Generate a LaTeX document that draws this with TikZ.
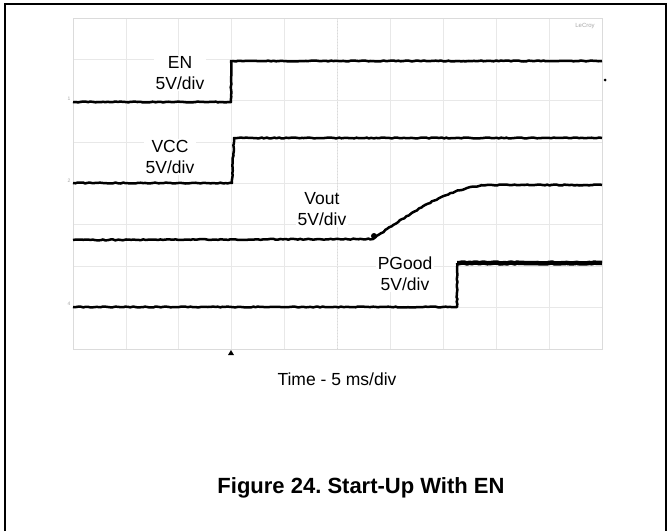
\documentclass[tikz,border=0pt]{standalone}
\usepackage{fontspec}
\setmainfont{Liberation Sans}
\usetikzlibrary{decorations.pathmorphing}

\begin{document}
\begin{tikzpicture}[x=1pt,y=-1pt,
	gridline/.style={gray!18,line width=.8pt},
	trace/.style={black,line width=2.5pt,line join=round,decorate,decoration={random steps,segment length=2.5pt,amplitude=.5pt}},
	scopelabel/.style={fill=white,align=center,inner sep=1.5pt,font=\fontsize{17.5}{21}\selectfont},
	chmark/.style={gray!70,font=\fontsize{5}{5}\selectfont,inner sep=0pt}]
							\useasboundingbox (0,0) rectangle (668,531);
							\draw[line width=1.5pt] (5,531)--(5,4)--(666,4)--(666,531);
							% graticule
							\foreach \i in {0,...,10} \draw[gridline] ({73+52.9*\i},18)--({73+52.9*\i},349);
							\foreach \j in {0,...,8} \draw[gridline] (73,{18+41.375*\j})--(602,{18+41.375*\j});
							\draw[gray!28,line width=1pt] (73,18) rectangle (602,349);
							\draw[gray!30,line width=.8pt,dash pattern=on 1pt off 2pt] (337.5,18)--(337.5,349);
							\node[gray!70,font=\fontsize{6}{7}\selectfont] (lecroy) at (585,26) {LeCroy};
							% traces
							\draw[trace] (73,102)--(231,102)--(231,61)--(602,61);
							\draw[trace] (73,183)--(232,183)--(234,138)--(602,138);
							\draw[trace] (73,240)--(373,239) .. controls (420,206) and (450,188) .. (487,185)--(602,185);
							\fill[black] (374,236) circle [radius=3pt];
							\draw[trace] (73,307)--(457,307)--(457,263);
							\draw[trace,line width=4.5pt] (457,263)--(602,263);
							% markers
							\node[chmark] (ch1) at (69,99) {1};
							\node[chmark] (ch2) at (69,181) {2};
							\node[chmark] (ch4) at (69,304) {4};
							\fill[black] (605,80) circle [radius=1.5pt];
							\fill[black] (228,355)--(234,355)--(231,350)--cycle;
							% labels
							\node[scopelabel] (en) at (180,73) {EN\\5V/div};
							\node[scopelabel] (vcc) at (170,157) {VCC\\5V/div};
							\node[scopelabel] (vout) at (322,209) {Vout\\5V/div};
							\node[scopelabel] (pgood) at (405,274) {PGood\\5V/div};
							\node[font=\fontsize{17.5}{21}\selectfont] (time) at (337,379) {Time - 5 ms/div};
							\node[font=\fontsize{22}{26}\bfseries] (caption) at (361,488) {Figure 24.\ Start-Up With EN};
						\end{tikzpicture}
\end{document}
